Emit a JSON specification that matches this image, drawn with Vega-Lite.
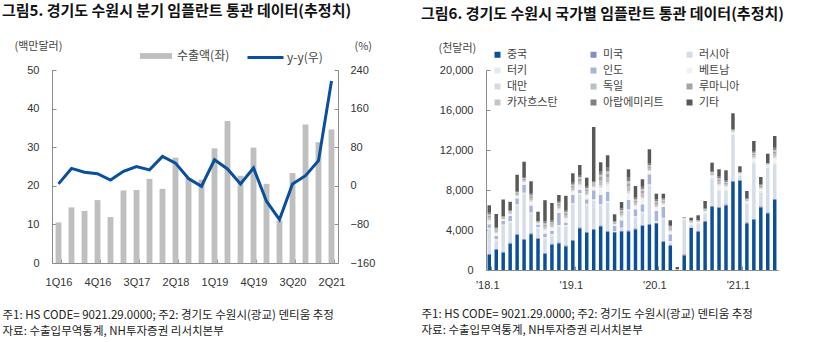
{
  "$schema": "https://vega.github.io/schema/vega-lite/v6.json",
  "background": "white",
  "padding": {"left": 2, "top": 4, "right": 0, "bottom": 0},
  "config": {
    "font": "Noto Sans CJK KR",
    "view": {"stroke": null},
    "axis": {"labelFont": "Liberation Sans", "labelFontSize": 11, "labelColor": "#333333", "domainColor": "#8c8c8c", "tickColor": "#8c8c8c", "grid": false, "titleFont": "Noto Sans CJK KR", "titleFontWeight": "normal", "titleFontSize": 11, "titleColor": "#444444"},
    "title": {"font": "Noto Sans CJK KR", "fontSize": 15, "fontWeight": "bold", "anchor": "start", "color": "#111111"},
    "legend": {"labelFont": "Noto Sans CJK KR", "labelFontSize": 11, "labelColor": "#444444", "padding": 0},
    "concat": {"spacing": 46}
  },
  "resolve": {"scale": {"color": "independent", "fill": "independent", "stroke": "independent"}, "legend": {"color": "independent", "fill": "independent", "stroke": "independent"}},
  "hconcat": [
    {
      "width": 286,
      "height": 193,
      "title": {"text": "그림5. 경기도 수원시 분기 임플란트 통관 데이터(추정치)", "frame": "group", "dx": -50, "offset": 19},
      "data": {"values": [
        {"q": "1Q16", "exp": 10.5, "yy": 4},
        {"q": "2Q16", "exp": 14.4, "yy": 36},
        {"q": "3Q16", "exp": 13.5, "yy": 28},
        {"q": "4Q16", "exp": 16.3, "yy": 25},
        {"q": "1Q17", "exp": 11.9, "yy": 12},
        {"q": "2Q17", "exp": 18.8, "yy": 30},
        {"q": "3Q17", "exp": 18.9, "yy": 40},
        {"q": "4Q17", "exp": 21.8, "yy": 33},
        {"q": "1Q18", "exp": 19.2, "yy": 61},
        {"q": "2Q18", "exp": 27.3, "yy": 47},
        {"q": "3Q18", "exp": 22.0, "yy": 15},
        {"q": "4Q18", "exp": 21.6, "yy": -1},
        {"q": "1Q19", "exp": 29.7, "yy": 54},
        {"q": "2Q19", "exp": 36.8, "yy": 35},
        {"q": "3Q19", "exp": 22.6, "yy": 4},
        {"q": "4Q19", "exp": 29.9, "yy": 37},
        {"q": "1Q20", "exp": 20.5, "yy": -32},
        {"q": "2Q20", "exp": 11.0, "yy": -70},
        {"q": "3Q20", "exp": 23.3, "yy": 4},
        {"q": "4Q20", "exp": 35.9, "yy": 21},
        {"q": "1Q21", "exp": 31.3, "yy": 52},
        {"q": "2Q21", "exp": 34.6, "yy": 217}
      ]},
      "encoding": {
        "x": {
          "field": "q", "type": "ordinal", "sort": null,
          "scale": {"paddingInner": 0.55, "paddingOuter": 0.275},
          "axis": {
            "values": ["1Q16", "4Q16", "3Q17", "2Q18", "1Q19", "4Q19", "3Q20", "2Q21"],
            "labelAngle": 0, "tickBand": "extent", "tickSize": -4, "labelPadding": 17,
            "title": ["주1: HS CODE= 9021.29.0000; 주2: 경기도 수원시(광교) 덴티움 추정", "자료: 수출입무역통계, NH투자증권 리서치본부"],
            "titleAnchor": "start", "titleAlign": "left", "titleX": -50, "titleY": 46, "titleBaseline": "top",
            "titleFontSize": 11.5, "titleColor": "#222222", "titleLineHeight": 16
          }
        }
      },
      "layer": [
        {
          "mark": {"type": "bar"},
          "encoding": {
            "y": {"field": "exp", "type": "quantitative", "scale": {"domain": [0, 50], "nice": false},
              "axis": {"values": [0, 10, 20, 30, 40, 50], "tickSize": -4, "labelPadding": 17,
                "title": "(백만달러)", "titleAngle": 0, "titleAlign": "left", "titleBaseline": "alphabetic", "titleX": -38, "titleY": -21}},
            "fill": {"datum": "수출액(좌)", "type": "nominal", "scale": {"range": ["#BFBFBF"]},
              "legend": {"orient": "none", "legendX": 88, "legendY": -30, "title": null, "symbolType": "M-1,-0.18H1V0.18H-1Z", "symbolSize": 1024, "symbolStrokeWidth": 0, "labelOffset": 5, "labelFontSize": 12}}
          }
        },
        {
          "mark": {"type": "line", "strokeWidth": 3},
          "encoding": {
            "y": {"field": "yy", "type": "quantitative", "scale": {"domain": [-160, 240], "nice": false},
              "axis": {"orient": "right", "values": [-160, -80, 0, 80, 160, 240], "tickSize": -4, "labelPadding": 16,
                "title": "(%)", "titleAngle": 0, "titleAlign": "left", "titleBaseline": "alphabetic", "titleX": 16, "titleY": -21}},
            "stroke": {"datum": "y-y(우)", "type": "nominal", "scale": {"range": ["#0A4F9C"]},
              "legend": {"orient": "none", "legendX": 194, "legendY": -32, "title": null, "symbolType": "stroke", "symbolSize": 1296, "symbolStrokeWidth": 3, "labelOffset": 2, "labelFontSize": 12}}
          }
        }
      ],
      "resolve": {"scale": {"y": "independent", "fill": "independent", "stroke": "independent"}}
    },
    {
      "width": 292,
      "height": 200,
      "title": {"text": "그림6. 경기도 수원시 국가별 임플란트 통관 데이터(추정치)", "frame": "group", "dx": -65, "offset": 20},
      "data": {"values": [
        {"m": "'18.1", "01중국": 1500, "02미국": 100, "03러시아": 2480, "04터키": 150, "05인도": 340, "06베트남": 350, "07대만": 120, "08독일": 230, "09루마니아": 170, "10카자흐스탄": 120, "11아랍에미리트": 170, "12기타": 740},
        {"m": "'18.2", "01중국": 2000, "02미국": 100, "03러시아": 850, "04터키": 150, "05인도": 300, "06베트남": 270, "07대만": 90, "08독일": 180, "09루마니아": 140, "10카자흐스탄": 90, "11아랍에미리트": 130, "12기타": 1300},
        {"m": "'18.3", "01중국": 1750, "02미국": 100, "03러시아": 2550, "04터키": 150, "05인도": 350, "06베트남": 150, "07대만": 50, "08독일": 100, "09루마니아": 80, "10카자흐스탄": 50, "11아랍에미리트": 70, "12기타": 1650},
        {"m": "'18.4", "01중국": 2650, "02미국": 100, "03러시아": 2000, "04터키": 150, "05인도": 500, "06베트남": 180, "07대만": 60, "08독일": 120, "09루마니아": 90, "10카자흐스탄": 60, "11아랍에미리트": 90, "12기타": 820},
        {"m": "'18.5", "01중국": 3530, "02미국": 100, "03러시아": 2790, "04터키": 150, "05인도": 600, "06베트남": 220, "07대만": 70, "08독일": 150, "09루마니아": 110, "10카자흐스탄": 70, "11아랍에미리트": 110, "12기타": 1620},
        {"m": "'18.6", "01중국": 3000, "02미국": 100, "03러시아": 4480, "04터키": 150, "05인도": 800, "06베트남": 230, "07대만": 80, "08독일": 150, "09루마니아": 120, "10카자흐스탄": 80, "11아랍에미리트": 110, "12기타": 1530},
        {"m": "'18.7", "01중국": 3580, "02미국": 100, "03러시아": 1920, "04터키": 150, "05인도": 700, "06베트남": 380, "07대만": 120, "08독일": 250, "09루마니아": 190, "10카자흐스탄": 120, "11아랍에미리트": 190, "12기타": 1170},
        {"m": "'18.8", "01중국": 3120, "02미국": 100, "03러시아": 930, "04터키": 150, "05인도": 250, "06베트남": 100, "07대만": 40, "08독일": 70, "09루마니아": 50, "10카자흐스탄": 40, "11아랍에미리트": 50, "12기타": 930},
        {"m": "'18.9", "01중국": 1610, "02미국": 100, "03러시아": 1440, "04터키": 150, "05인도": 350, "06베트남": 360, "07대만": 120, "08독일": 240, "09루마니아": 180, "10카자흐스탄": 120, "11아랍에미리트": 180, "12기타": 2130},
        {"m": "'18.10", "01중국": 2550, "02미국": 100, "03러시아": 800, "04터키": 150, "05인도": 300, "06베트남": 320, "07대만": 100, "08독일": 210, "09루마니아": 160, "10카자흐스탄": 100, "11아랍에미리트": 160, "12기타": 1750},
        {"m": "'18.11", "01중국": 2670, "02미국": 100, "03러시아": 1580, "04터키": 150, "05인도": 1200, "06베트남": 360, "07대만": 120, "08독일": 240, "09루마니아": 180, "10카자흐스탄": 120, "11아랍에미리트": 180, "12기타": 600},
        {"m": "'18.12", "01중국": 2370, "02미국": 100, "03러시아": 1880, "04터키": 150, "05인도": 250, "06베트남": 380, "07대만": 120, "08독일": 250, "09루마니아": 190, "10카자흐스탄": 120, "11아랍에미리트": 190, "12기타": 1420},
        {"m": "'19.1", "01중국": 2900, "02미국": 100, "03러시아": 3550, "04터키": 150, "05인도": 800, "06베트남": 370, "07대만": 120, "08독일": 250, "09루마니아": 180, "10카자흐스탄": 120, "11아랍에미리트": 190, "12기타": 940},
        {"m": "'19.2", "01중국": 4170, "02미국": 100, "03러시아": 3280, "04터키": 150, "05인도": 300, "06베트남": 450, "07대만": 150, "08독일": 300, "09루마니아": 230, "10카자흐스탄": 150, "11아랍에미리트": 220, "12기타": 1000},
        {"m": "'19.3", "01중국": 3700, "02미국": 100, "03러시아": 2680, "04터키": 150, "05인도": 440, "06베트남": 400, "07대만": 130, "08독일": 270, "09루마니아": 200, "10카자흐스탄": 130, "11아랍에미리트": 200, "12기타": 830},
        {"m": "'19.4", "01중국": 4000, "02미국": 100, "03러시아": 2820, "04터키": 150, "05인도": 900, "06베트남": 280, "07대만": 90, "08독일": 190, "09루마니아": 140, "10카자흐스탄": 90, "11아랍에미리트": 140, "12기타": 5400},
        {"m": "'19.5", "01중국": 4370, "02미국": 100, "03러시아": 1950, "04터키": 150, "05인도": 930, "06베트남": 720, "07대만": 240, "08독일": 480, "09루마니아": 360, "10카자흐스탄": 240, "11아랍에미리트": 360, "12기타": 870},
        {"m": "'19.6", "01중국": 3830, "02미국": 100, "03러시아": 2820, "04터키": 150, "05인도": 930, "06베트남": 720, "07대만": 240, "08독일": 480, "09루마니아": 360, "10카자흐스탄": 240, "11아랍에미리트": 360, "12기타": 1240},
        {"m": "'19.7", "01중국": 3770, "02미국": 50, "03러시아": 30, "04터키": 50, "05인도": 500, "06베트남": 150, "07대만": 50, "08독일": 100, "09루마니아": 80, "10카자흐스탄": 50, "11아랍에미리트": 70, "12기타": 670},
        {"m": "'19.8", "01중국": 3870, "02미국": 50, "03러시아": 260, "04터키": 50, "05인도": 740, "06베트남": 360, "07대만": 120, "08독일": 240, "09루마니아": 180, "10카자흐스탄": 120, "11아랍에미리트": 180, "12기타": 630},
        {"m": "'19.9", "01중국": 3870, "02미국": 100, "03러시아": 1950, "04터키": 150, "05인도": 930, "06베트남": 670, "07대만": 220, "08독일": 450, "09루마니아": 330, "10카자흐스탄": 220, "11아랍에미리트": 340, "12기타": 840},
        {"m": "'19.10", "01중국": 4070, "02미국": 100, "03러시아": 1080, "04터키": 150, "05인도": 670, "06베트남": 350, "07대만": 120, "08독일": 230, "09루마니아": 170, "10카자흐스탄": 120, "11아랍에미리트": 170, "12기타": 1170},
        {"m": "'19.11", "01중국": 4430, "02미국": 100, "03러시아": 1150, "04터키": 150, "05인도": 740, "06베트남": 550, "07대만": 180, "08독일": 370, "09루마니아": 270, "10카자흐스탄": 180, "11아랍에미리트": 280, "12기타": 670},
        {"m": "'19.12", "01중국": 4500, "02미국": 100, "03러시아": 3820, "04터키": 150, "05인도": 1000, "06베트남": 320, "07대만": 110, "08독일": 210, "09루마니아": 160, "10카자흐스탄": 110, "11아랍에미리트": 150, "12기타": 1440},
        {"m": "'20.1", "01중국": 4670, "02미국": 50, "03러시아": 130, "04터키": 50, "05인도": 1000, "06베트남": 350, "07대만": 120, "08독일": 230, "09루마니아": 180, "10카자흐스탄": 120, "11아랍에미리트": 170, "12기타": 560},
        {"m": "'20.2", "01중국": 2830, "02미국": 100, "03러시아": 2150, "04터키": 150, "05인도": 1070, "06베트남": 260, "07대만": 90, "08독일": 170, "09루마니아": 130, "10카자흐스탄": 90, "11아랍에미리트": 130, "12기타": 460},
        {"m": "'20.3", "01중국": 2400, "02미국": 100, "03러시아": 250, "04터키": 150, "05인도": 670, "06베트남": 280, "07대만": 90, "08독일": 190, "09루마니아": 140, "10카자흐스탄": 90, "11아랍에미리트": 140, "12기타": 470},
        {"m": "'20.4", "01중국": 0, "02미국": 0, "03러시아": 0, "04터키": 0, "05인도": 0, "06베트남": 0, "07대만": 0, "08독일": 100, "09루마니아": 0, "10카자흐스탄": 0, "11아랍에미리트": 0, "12기타": 200},
        {"m": "'20.5", "01중국": 1470, "02미국": 100, "03러시아": 3410, "04터키": 150, "05인도": 0, "06베트남": 30, "07대만": 10, "08독일": 20, "09루마니아": 20, "10카자흐스탄": 10, "11아랍에미리트": 10, "12기타": 40},
        {"m": "'20.6", "01중국": 4200, "02미국": 50, "03러시아": 270, "04터키": 50, "05인도": 0, "06베트남": 130, "07대만": 40, "08독일": 90, "09루마니아": 60, "10카자흐스탄": 40, "11아랍에미리트": 70, "12기타": 230},
        {"m": "'20.7", "01중국": 3800, "02미국": 100, "03러시아": 680, "04터키": 150, "05인도": 0, "06베트남": 80, "07대만": 30, "08독일": 50, "09루마니아": 40, "10카자흐스탄": 30, "11아랍에미리트": 40, "12기타": 470},
        {"m": "'20.8", "01중국": 4800, "02미국": 100, "03러시아": 680, "04터키": 150, "05인도": 0, "06베트남": 130, "07대만": 40, "08독일": 90, "09루마니아": 70, "10카자흐스탄": 40, "11아랍에미리트": 70, "12기타": 730},
        {"m": "'20.9", "01중국": 6300, "02미국": 100, "03러시아": 2680, "04터키": 150, "05인도": 0, "06베트남": 200, "07대만": 70, "08독일": 130, "09루마니아": 100, "10카자흐스탄": 70, "11아랍에미리트": 100, "12기타": 830},
        {"m": "'20.10", "01중국": 6230, "02미국": 100, "03러시아": 1590, "04터키": 150, "05인도": 0, "06베트남": 400, "07대만": 130, "08독일": 270, "09루마니아": 200, "10카자흐스탄": 130, "11아랍에미리트": 200, "12기타": 670},
        {"m": "'20.11", "01중국": 6470, "02미국": 100, "03러시아": 1350, "04터키": 150, "05인도": 0, "06베트남": 260, "07대만": 90, "08독일": 170, "09루마니아": 130, "10카자흐스탄": 90, "11아랍에미리트": 120, "12기타": 1040},
        {"m": "'20.12", "01중국": 8800, "02미국": 100, "03러시아": 4620, "04터키": 150, "05인도": 0, "06베트남": 120, "07대만": 40, "08독일": 80, "09루마니아": 60, "10카자흐스탄": 40, "11아랍에미리트": 60, "12기타": 1600},
        {"m": "'21.1", "01중국": 8930, "02미국": 100, "03러시아": 390, "04터키": 150, "05인도": 0, "06베트남": 70, "07대만": 20, "08독일": 50, "09루마니아": 30, "10카자흐스탄": 20, "11아랍에미리트": 40, "12기타": 570},
        {"m": "'21.2", "01중국": 4670, "02미국": 100, "03러시아": 1810, "04터키": 150, "05인도": 0, "06베트남": 130, "07대만": 40, "08독일": 90, "09루마니아": 70, "10카자흐스탄": 40, "11아랍에미리트": 70, "12기타": 730},
        {"m": "'21.3", "01중국": 5000, "02미국": 100, "03러시아": 5550, "04터키": 150, "05인도": 0, "06베트남": 330, "07대만": 110, "08독일": 220, "09루마니아": 160, "10카자흐스탄": 110, "11아랍에미리트": 170, "12기타": 1000},
        {"m": "'21.4", "01중국": 6270, "02미국": 100, "03러시아": 1380, "04터키": 150, "05인도": 0, "06베트남": 200, "07대만": 70, "08독일": 130, "09루마니아": 100, "10카자흐스탄": 70, "11아랍에미리트": 100, "12기타": 730},
        {"m": "'21.5", "01중국": 5670, "02미국": 100, "03러시아": 4480, "04터키": 150, "05인도": 0, "06베트남": 90, "07대만": 30, "08독일": 60, "09루마니아": 50, "10카자흐스탄": 30, "11아랍에미리트": 40, "12기타": 930},
        {"m": "'21.6", "01중국": 7000, "02미국": 100, "03러시아": 3480, "04터키": 150, "05인도": 0, "06베트남": 450, "07대만": 150, "08독일": 300, "09루마니아": 230, "10카자흐스탄": 150, "11아랍에미리트": 220, "12기타": 1170}
      ]},
      "transform": [
        {"fold": ["01중국", "02미국", "03러시아", "04터키", "05인도", "06베트남", "07대만", "08독일", "09루마니아", "10카자흐스탄", "11아랍에미리트", "12기타"], "as": ["country", "v"]}
      ],
      "mark": {"type": "bar"},
      "encoding": {
        "x": {
          "field": "m", "type": "ordinal", "sort": null,
          "scale": {"paddingInner": 0.5, "paddingOuter": 0.22},
          "axis": {
            "values": ["'18.1", "'19.1", "'20.1", "'21.1"],
            "labelAngle": 0, "tickBand": "extent", "tickSize": -4, "labelPadding": 13, "labelOffset": -2,
            "title": ["주1: HS CODE= 9021.29.0000; 주2: 경기도 수원시(광교) 덴티움 추정", "자료: 수출입무역통계, NH투자증권 리서치본부"],
            "titleAnchor": "start", "titleAlign": "left", "titleX": -65, "titleY": 38, "titleBaseline": "top",
            "titleFontSize": 11.5, "titleColor": "#222222", "titleLineHeight": 16
          }
        },
        "y": {
          "field": "v", "type": "quantitative", "stack": "zero",
          "scale": {"domain": [0, 20000], "nice": false},
          "axis": {"values": [0, 4000, 8000, 12000, 16000, 20000], "format": ",d", "tickSize": -4, "labelPadding": 17,
            "title": "(천달러)", "titleAngle": 0, "titleAlign": "left", "titleBaseline": "alphabetic", "titleX": -48, "titleY": -19}
        },
        "color": {
          "field": "country", "type": "nominal",
          "scale": {
            "domain": ["01중국", "02미국", "03러시아", "04터키", "05인도", "06베트남", "07대만", "08독일", "09루마니아", "10카자흐스탄", "11아랍에미리트", "12기타"],
            "range": ["#0B4E9A", "#7F8FBF", "#D5DDE8", "#E4E8F0", "#A8B5DA", "#F2F2F4", "#DADADA", "#BFBFBF", "#A5A5A5", "#C4C4C4", "#808080", "#585858"]
          },
          "legend": {"orient": "none", "legendX": 6, "legendY": -21, "columns": 3, "direction": "horizontal", "title": null, "labelExpr": "substring(datum.label, 2)",
            "symbolType": "square", "symbolSize": 36, "symbolStrokeWidth": 0, "gridAlign": "all", "columnPadding": 20, "rowPadding": 4, "labelFontSize": 11, "labelOffset": 4}
        },
        "order": {"field": "country", "sort": "ascending"}
      }
    }
  ]
}
